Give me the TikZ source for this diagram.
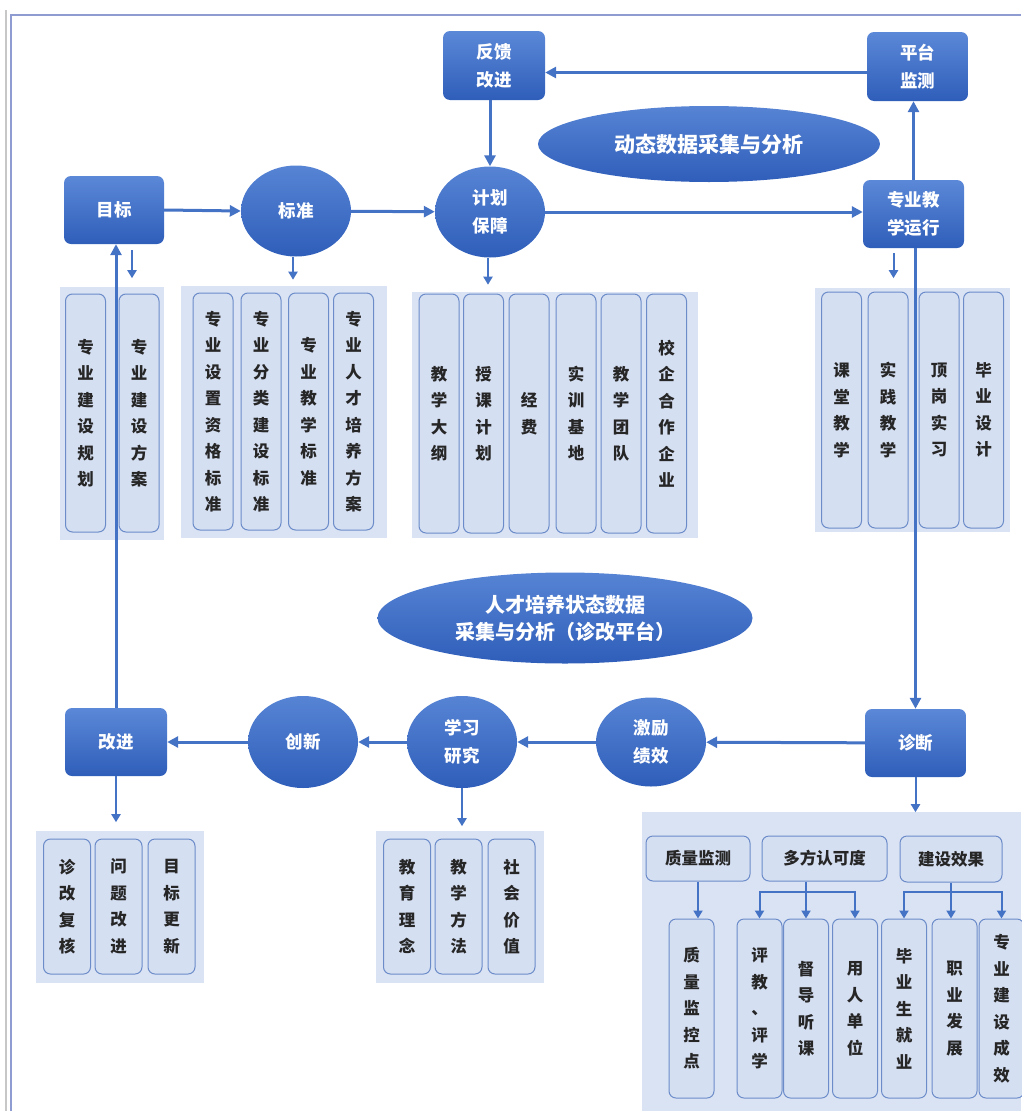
\documentclass[tikz,border=0pt]{standalone}
\usepackage{fontspec}
\setmainfont{Noto Sans CJK SC}
\usetikzlibrary{shapes.geometric,arrows.meta}
\definecolor{nodetop}{HTML}{5B88D7}
\definecolor{nodebot}{HTML}{2F5EBA}
\definecolor{flowblue}{HTML}{4472C4}
\definecolor{panelbg}{HTML}{DAE3F3}
\definecolor{boxfill}{HTML}{D5DFF2}
\definecolor{boxline}{HTML}{6B8CC9}
\definecolor{frameblue}{HTML}{8E9CD2}

\tikzset{
	stage/.style={rounded corners=7pt, top color=nodetop, bottom color=nodebot, draw=none, text=white, font=\bfseries\fontsize{17.5}{28}\selectfont, align=center, inner sep=0pt},
	hub/.style={ellipse, top color=nodetop!90!nodebot, bottom color=nodebot, draw=none, text=white, font=\bfseries\fontsize{17.5}{28}\selectfont, align=center, inner sep=0pt},
	panel/.style={fill=panelbg, draw=none},
	vbox/.style={draw=boxline, line width=1pt, rounded corners=7pt, fill=boxfill, align=center, font=\bfseries\fontsize{16.5}{26.5}\selectfont, text=black!85, inner sep=0pt},
	flow/.style={draw=flowblue, line width=3pt, -{Triangle[length=11pt,width=11pt]}},
	drop/.style={draw=flowblue, line width=2pt, -{Triangle[length=8pt,width=9pt]}},
}

\begin{document}
\begin{tikzpicture}[x=1pt,y=-1pt]
	\useasboundingbox (0,0) rectangle (1021,1111);
	% frame
	\draw[black!22, line width=1.5pt] (6,10) -- (6,1111);
	\draw[frameblue, line width=1.5pt] (11,1111) -- (11,15) -- (1021,15);

	% panels
	\fill[panel] (60,287) rectangle (164,540);
	\fill[panel] (181,286) rectangle (387,538);
	\fill[panel] (412,292) rectangle (698,538);
	\fill[panel] (815,288) rectangle (1010,532);
	\fill[panel] (36,831) rectangle (204,983);
	\fill[panel] (376,831) rectangle (544,983);
	\fill[panel] (642,812) rectangle (1021,1111);

	% vertical items
	\foreach \x/\t [count=\i] in {85.5/{专\\业\\建\\设\\规\\划}, 139/{专\\业\\建\\设\\方\\案}}
		\node[vbox, minimum width=40pt, minimum height=238pt] (a\i) at (\x,413) {\t};
	\foreach \x/\t [count=\i] in {213/{专\\业\\设\\置\\资\\格\\标\\准}, 261/{专\\业\\分\\类\\建\\设\\标\\准}, 308.5/{专\\业\\教\\学\\标\\准}, 353.5/{专\\业\\人\\才\\培\\养\\方\\案}}
		\node[vbox, minimum width=40pt, minimum height=237pt] (b\i) at (\x,411.5) {\t};
	\foreach \x/\t [count=\i] in {439/{教\\学\\大\\纲}, 483.5/{授\\课\\计\\划}, 529/{经\\费}, 576/{实\\训\\基\\地}, 621/{教\\学\\团\\队}, 666.5/{校\\企\\合\\作\\企\\业}}
		\node[vbox, minimum width=40pt, minimum height=239pt] (c\i) at (\x,413.5) {\t};
	\foreach \x/\t [count=\i] in {841.5/{课\\堂\\教\\学}, 888/{实\\践\\教\\学}, 939/{顶\\岗\\实\\习}, 983.5/{毕\\业\\设\\计}}
		\node[vbox, minimum width=40pt, minimum height=236pt] (d\i) at (\x,410) {\t};
	\foreach \x/\t [count=\i] in {67/{诊\\改\\复\\核}, 118.5/{问\\题\\改\\进}, 171.5/{目\\标\\更\\新}}
		\node[vbox, minimum width=47pt, minimum height=135pt] (e\i) at (\x,906.5) {\t};
	\foreach \x/\t [count=\i] in {407/{教\\育\\理\\念}, 458.5/{教\\学\\方\\法}, 511.5/{社\\会\\价\\值}}
		\node[vbox, minimum width=47pt, minimum height=135pt] (f\i) at (\x,906.5) {\t};

	% diagnosis details
	\node[vbox, minimum width=104pt, minimum height=45pt] (q1) at (698,858.5) {质量监测};
	\node[vbox, minimum width=125pt, minimum height=45pt] (q2) at (824.5,858.5) {多方认可度};
	\node[vbox, minimum width=102pt, minimum height=46pt] (q3) at (951,859) {建设效果};
	\foreach \x/\t [count=\i] in {691.5/{质\\量\\监\\控\\点}, 759.5/{评\\教\\、\\评\\学}, 806/{督\\导\\听\\课}, 855/{用\\人\\单\\位}, 904/{毕\\业\\生\\就\\业}, 954.5/{职\\业\\发\\展}, 1001.5/{专\\业\\建\\设\\成\\效}}
		\node[vbox, minimum width=45pt, minimum height=179pt] (v\i) at (\x,1008.5) {\t};
	\coordinate (bar2) at (806,892);
	\coordinate (bar3) at (951,892);
	\draw[drop] (q1.south) -- (q1.south |- v1.north);
	\draw[drop] (bar2 |- q2.south) -- (v3.north);
	\draw[drop] (bar2) -| (v2.north);
	\draw[drop] (bar2) -| (v4.north);
	\draw[drop] (q3.south) -- (q3.south |- v6.north);
	\draw[drop] (bar3) -| (v5.north);
	\draw[drop] (bar3) -| (v7.north);

	% main stages
	\node[stage, minimum width=102pt, minimum height=69pt] (fankui) at (494,65.5) {反馈\\改进};
	\node[stage, minimum width=101pt, minimum height=69pt] (pingtai) at (917.5,66.5) {平台\\监测};
	\node[stage, minimum width=100pt, minimum height=68pt] (mubiao) at (114,210) {目标};
	\node[hub, minimum width=110pt, minimum height=91pt] (biaozhun) at (296,211) {标准};
	\node[hub, minimum width=110pt, minimum height=91pt] (jihua) at (490,212) {计划\\保障};
	\node[stage, minimum width=101pt, minimum height=68pt] (yunxing) at (913.5,214) {专业教\\学运行};
	\node[stage, minimum width=101pt, minimum height=68pt] (zhenduan) at (915.5,743) {诊断};
	\node[hub, minimum width=110pt, minimum height=89pt] (jili) at (651,742) {激励\\绩效};
	\node[hub, minimum width=110pt, minimum height=92pt] (xuexi) at (462,742) {学习\\研究};
	\node[hub, minimum width=110pt, minimum height=92pt] (chuangxin) at (303,742) {创新};
	\node[stage, minimum width=102pt, minimum height=68pt] (gaijin) at (116,742) {改进};

	% data platforms
	\node[hub, minimum width=342pt, minimum height=76pt, font=\bfseries\fontsize{21}{28}\selectfont] (dongtai) at (709,144) {动态数据采集与分析};
	\node[hub, minimum width=375pt, minimum height=91pt, font=\bfseries\fontsize{20}{27}\selectfont] (zhenggai) at (565,618) {人才培养状态数据\\采集与分析（诊改平台）};

	% cycle
	\draw[flow] (mubiao.east) -- (biaozhun.west);
	\draw[flow] (biaozhun) -- (jihua);
	\draw[flow] (jihua.east) -- (jihua.east -| yunxing.west);
	\draw[flow] (yunxing.north) -- (yunxing.north |- pingtai.south);
	\draw[flow] ([yshift=-6pt]pingtai.west) -- ([yshift=-6pt]pingtai.west -| fankui.east);
	\draw[flow] (fankui.south -| jihua.north) -- (jihua.north);
	\draw[flow] (zhenduan.north |- yunxing.south) -- (zhenduan.north);
	\draw[flow] (zhenduan) -- (jili);
	\draw[flow] (jili) -- (xuexi);
	\draw[flow] (xuexi) -- (chuangxin);
	\draw[flow] (chuangxin) -- (gaijin);
	\draw[flow] (gaijin.north) -- (gaijin.north |- mubiao.south);

	% down to details
	\draw[drop] ([xshift=18pt,yshift=-6pt]mubiao.south) -- ++(0,28);
	\draw[drop] ([xshift=-3pt]biaozhun.south) -- ++(0,23);
	\draw[drop] ([xshift=-2pt]jihua.south) -- ++(0,27);
	\draw[drop] ([xshift=-20pt,yshift=-5pt]yunxing.south) -- ++(0,25);
	\draw[drop] (gaijin.south) -- ++(0,46);
	\draw[drop] (xuexi.south) -- ++(0,38);
	\draw[drop] (zhenduan.south) -- ++(0,35);
\end{tikzpicture}
\end{document}
